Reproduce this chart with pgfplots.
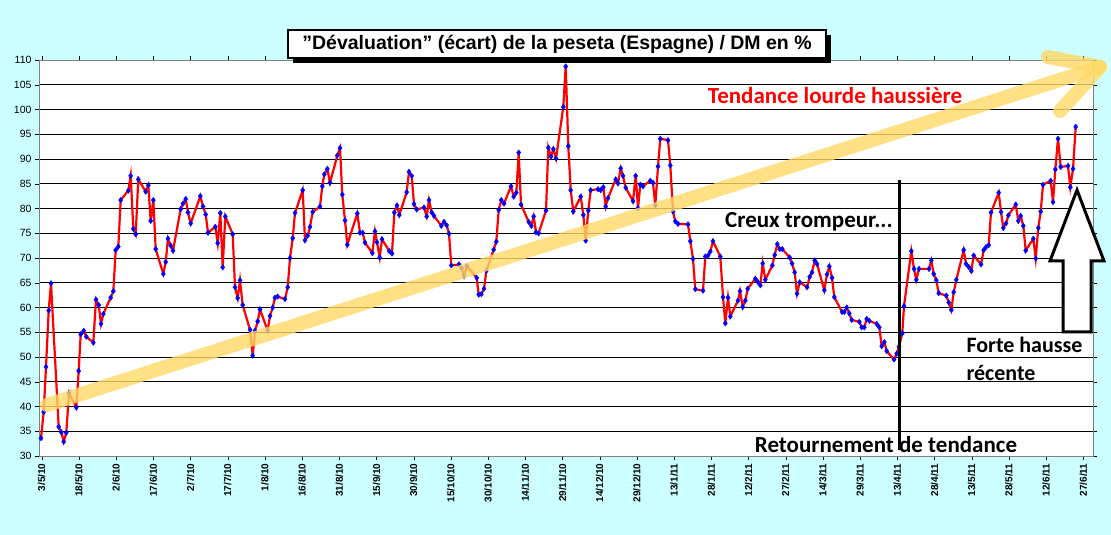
\documentclass[border=0pt]{standalone}
\usepackage{pgfplots}
\pgfplotsset{compat=1.18}
\usepackage{fontspec}
\setmainfont{Liberation Sans}
\newfontfamily\calfont{Carlito}
\definecolor{bgc}{HTML}{CCFFFF}
\definecolor{arr}{HTML}{FFD966}
\begin{document}
\begin{tikzpicture}[x=1pt,y=1pt]
\fill[bgc] (0,0) rectangle (1111,535);
\begin{axis}[at={(39pt,79pt)},anchor=south west,scale only axis,width=1054pt,height=396pt,
 xmin=39,xmax=1093,ymin=30,ymax=110,
 axis background/.style={fill=white},
 axis line style={gray,line width=0.8pt},
 ytick={30,35,...,110},
 ymajorgrids, grid style={black,line width=0.7pt},
 xtick={41.7,78.9,...,1085},
 xticklabels={3/5/10,18/5/10,2/6/10,17/6/10,2/7/10,17/7/10,1/8/10,16/8/10,31/8/10,15/9/10,30/9/10,15/10/10,30/10/10,14/11/10,29/11/10,14/12/10,29/12/10,13/1/11,28/1/11,12/2/11,27/2/11,14/3/11,29/3/11,13/4/11,28/4/11,13/5/11,28/5/11,12/6/11,27/6/11},
 xticklabel style={rotate=90,anchor=east,font=\fontsize{10}{11}\selectfont\bfseries},
 yticklabel style={font=\fontsize{10.5}{11}\selectfont},
 tick align=outside, major tick length=4pt, tick style={black},
 /pgf/number format/assume math mode=true,
 clip=false]
\addplot[red,line width=2.2pt,mark=diamond*,mark size=2.8pt,mark options={blue,draw=blue,line width=0.3pt}] coordinates {
(41,33.6)(43.7,38.9)(46,48.0)(48.7,59.4)(51,64.9)(58.7,35.9)(61.3,34.8)(63.7,32.9)(66.3,34.7)(69,42.7)(76.3,39.8)(78.7,47.2)(80.7,54.6)(83.7,55.3)(86.3,54.1)(93.3,52.9)(96,61.6)(98.7,60.5)(101,56.7)(103.3,58.7)(110.7,62.0)(113.3,63.3)(115.7,71.6)(118.3,72.3)(120.7,81.7)(128.3,83.6)(130.7,86.6)(133.3,75.9)(135.7,74.8)(138.3,85.9)(145.7,83.4)(148.3,84.7)(150.7,77.5)(153.3,81.7)(155.7,71.8)(163.3,66.8)(165.7,69.2)(168,73.9)(170.7,72.5)(173,71.5)(180.7,79.9)(183,81.0)(185.7,81.9)(188,79.2)(190.7,77.0)(200.3,82.5)(203,80.4)(205.7,78.8)(208,75.1)(215.3,76.3)(217.7,73.0)(220.3,79.1)(222.7,68.1)(225.3,78.4)(232.7,74.8)(235,64.1)(237.7,61.9)(240,65.5)(242.7,60.5)(250,55.5)(252.7,50.3)(255,55.3)(257.7,57.2)(260,59.6)(267.7,55.3)(270,58.3)(272.7,60.0)(275,62.0)(277.7,62.2)(285,61.7)(287.7,64.1)(290,70.0)(292.7,74.0)(295,79.1)(302.7,83.7)(305,73.6)(307.7,74.5)(310,76.3)(312.7,79.3)(320,80.4)(322.3,84.5)(324.3,86.9)(327.3,88.0)(330,85.2)(337.3,90.7)(340,92.2)(342.3,82.8)(345,77.6)(347.3,72.7)(357.3,79.0)(360,75.1)(362.7,75.1)(365,73.1)(372.3,71.0)(375,75.4)(377,73.2)(379.7,70.1)(382,73.8)(389.3,71.4)(392,70.9)(394.3,79.2)(397,80.6)(399.3,78.7)(406.7,83.3)(409,87.4)(411.7,86.6)(414,80.9)(416.7,79.8)(424,80.2)(426.7,78.4)(429,81.7)(431.7,79.2)(434,78.5)(441.3,76.5)(444,77.3)(446.7,76.6)(449,74.9)(451.3,68.5)(459,68.7)(461.7,67.9)(464,66.4)(466.7,68.4)(476.7,66.0)(478.7,62.6)(481.3,62.7)(484,63.8)(486.3,67.4)(493.7,71.7)(496.3,73.3)(498.7,79.7)(501.3,81.7)(504,81.0)(511,84.5)(513.7,82.4)(516.3,83.2)(518.7,91.3)(521,80.8)(528.7,77.3)(531.3,76.5)(533.7,78.4)(536,75.2)(538.7,75.0)(546,79.6)(548.3,92.3)(551,90.5)(553.3,92.0)(556,90.1)(563.3,100.5)(565.7,108.7)(568.3,92.6)(570.7,83.7)(573.3,79.4)(580.7,82.4)(583.3,78.7)(585.7,73.5)(588.3,79.6)(590.7,83.7)(598,83.9)(600.7,83.7)(603.3,84.3)(605.7,80.4)(608,82.1)(615.7,85.9)(618,85.1)(620.7,88.1)(623,86.6)(625.7,84.2)(633,81.5)(635.7,86.6)(638,80.1)(640.3,84.8)(643,84.5)(650.3,85.6)(653,85.2)(655.3,80.6)(658,88.5)(660.3,94.1)(668,93.8)(670.3,88.7)(673,79.4)(675.3,77.4)(678,76.9)(688,76.8)(690.3,73.4)(693,69.8)(695.3,63.7)(703,63.4)(705.3,70.3)(708,70.5)(710.3,71.3)(713,73.4)(720.3,70.3)(723,62.1)(725.3,56.8)(728,62.0)(730.3,58.2)(738,61.4)(740,63.3)(742.7,60.1)(745.3,61.4)(747.7,63.8)(755.3,65.8)(757.7,65.2)(760.3,64.5)(762.7,68.9)(765.3,65.6)(772.3,68.5)(774.7,70.6)(777.3,72.8)(779.7,71.8)(782.3,71.8)(789.7,70.1)(792,68.9)(794.7,67.1)(797,62.8)(799.7,65.1)(807,64.1)(809.7,66.2)(812,67.1)(814.7,69.5)(817,68.8)(824.3,63.5)(827,66.7)(829.3,68.3)(832,66.0)(834.3,62.1)(842,59.1)(844.3,59.1)(846.7,60.0)(849.3,58.8)(851.7,57.5)(859.3,57.1)(861.7,56.0)(864.3,56.0)(866.7,57.7)(869.3,57.3)(876.7,56.7)(879.3,56.0)(881.7,52.2)(884.3,53.0)(886.7,51.2)(894,49.5)(896.7,50.7)(899,52.1)(902.3,54.8)(904,60.3)(911.3,71.4)(914,67.8)(916.3,65.6)(919,67.8)(929,67.8)(931.3,69.5)(933.7,66.8)(936.3,65.5)(938.7,62.9)(946.3,62.4)(948.7,61.0)(951.3,59.5)(953.7,63.1)(956.3,65.6)(963.7,71.6)(966,68.8)(968.7,68.2)(971.3,67.4)(973.7,70.5)(981,68.7)(983.7,71.6)(986,72.2)(988.7,72.6)(991,79.2)(998.7,83.2)(1001,79.3)(1003.3,76.1)(1006,77.0)(1008.3,78.6)(1015.7,80.8)(1018.3,77.5)(1020.7,78.5)(1023.3,76.5)(1025.7,71.5)(1033.3,73.9)(1035.7,69.9)(1038.3,76.1)(1040.7,79.4)(1043,84.8)(1050.7,85.6)(1053,81.3)(1055.3,87.9)(1058,94.1)(1060.7,88.4)(1068,88.6)(1070.3,84.3)(1073,88.0)(1075.7,96.5)
};
\end{axis}
% trend arrow
\draw[arr,opacity=0.8,line width=14pt,line cap=round,line join=round] (47,130)--(1100,468);
\draw[arr,opacity=0.8,line width=14pt,line cap=round,line join=round] (1048,478)--(1100,468)--(1060,424);
\node[red,font=\calfont\fontsize{23}{24}\selectfont\bfseries] at (835,439) {Tendance lourde haussière};
% title
\fill[black] (293,472) rectangle (831,500);
\draw[black,fill=white,line width=1.5pt] (288,477) rectangle (826,505);
\node[font=\fontsize{19.5}{20}\selectfont\bfseries] at (557,491) {\symbol{34}Dévaluation\symbol{34} (écart) de la peseta (Espagne) / DM en \%};
\node[font=\calfont\fontsize{23}{24}\selectfont\bfseries] at (809,313) {Creux trompeur...};
\draw[black,line width=3pt] (899,355)--(899,85);
\node[font=\calfont\fontsize{23}{24}\selectfont\bfseries] at (886,90) {Retournement de tendance};
\node[font=\calfont\fontsize{22}{23}\selectfont\bfseries,anchor=west] at (963,190) {Forte hausse};
\node[font=\calfont\fontsize{22}{23}\selectfont\bfseries,anchor=west] at (963,162) {récente};
\draw[black,line width=3pt,line join=miter,fill=white] (1063,203)--(1063,274)--(1050,274)--(1077,345)--(1104,274)--(1091,274)--(1091,203)--cycle;
\end{tikzpicture}
\end{document}
